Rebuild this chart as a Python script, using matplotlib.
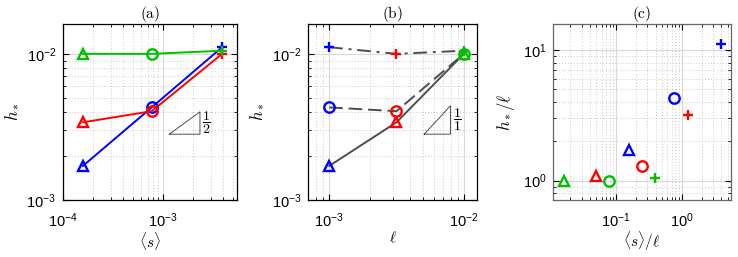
import numpy as np
import matplotlib
matplotlib.use("Agg")
import matplotlib.pyplot as plt
from matplotlib.ticker import LogLocator, NullFormatter

plt.rcParams["font.family"] = ["Liberation Sans", "DejaVu Sans"]
plt.rcParams["mathtext.fontset"] = "cm"

# data
s_vals = [1.58e-4, 7.7e-4, 3.9e-3]          # <s>, one per marker type
ell_vals = [1e-3, 3.16e-3, 1e-2]             # ell, one per colour
colors = ["#0000ff", "#ff0000", "#00c000"]
markers = ["^", "o", "+"]
# h_* [colour][marker]
h_blue = [1.71e-3, 4.3e-3, 1.11e-2]
h_red = [3.4e-3, 4.05e-3, 1.0e-2]
h_green = [1.0e-2, 1.0e-2, 1.05e-2]
h_all = [h_blue, h_red, h_green]
line_styles_b = ["-", (0, (7, 3)), (0, (7, 3, 1.5, 3))]


def style_axes(ax, spine_col="k"):
    ax.set_xscale("log")
    ax.set_yscale("log")
    ax.grid(True, which="major", color="0.85", lw=0.8, ls="-")
    ax.grid(True, which="minor", color="0.72", lw=0.6, ls=(0, (1, 2.5)))
    ax.set_axisbelow(True)
    ax.tick_params(which="both", direction="in", top=True, right=True,
                   labelsize=10.5)
    ax.tick_params(which="major", length=4)
    ax.tick_params(which="minor", length=2)
    ax.tick_params(axis="x", pad=8)
    ax.tick_params(axis="y", pad=5)
    ax.xaxis.set_minor_locator(LogLocator(base=10, subs=np.arange(2, 10)))
    ax.yaxis.set_minor_locator(LogLocator(base=10, subs=np.arange(2, 10)))
    ax.xaxis.set_minor_formatter(NullFormatter())
    ax.yaxis.set_minor_formatter(NullFormatter())
    for sp in ax.spines.values():
        sp.set_color(spine_col)
        sp.set_linewidth(0.9)


def slope_triangle(ax, x0, x1, y0, slope, label):
    y1 = y0 * (x1 / x0) ** slope
    ax.plot([x0, x1, x1, x0], [y0, y0, y1, y0], color="0.3", lw=0.7)
    ax.text(x1 * 1.05, np.sqrt(y0 * y1), label, fontsize=10,
            ha="left", va="center")


fig = plt.figure(figsize=(7.38, 2.57), dpi=100)
ax_a = fig.add_axes([0.0854, 0.2218, 0.2358, 0.6848])
ax_b = fig.add_axes([0.4178, 0.2218, 0.2290, 0.6848])
ax_c = fig.add_axes([0.7497, 0.2218, 0.2404, 0.6848])

# (a) h_* vs <s>, one line per ell
style_axes(ax_a)
for h, c in zip(h_all, colors):
    ax_a.plot(s_vals, h, color=c, lw=1.4)
    for xv, yv, m in zip(s_vals, h, markers):
        ax_a.plot(xv, yv, marker=m, ms=7.5, mew=1.7, mfc="none", mec=c)
ax_a.set_xlim(1e-4, 5.5e-3)
ax_a.set_ylim(1e-3, 1.6e-2)
slope_triangle(ax_a, 1.156e-3, 2.34e-3, 2.82e-3, 0.5, r"$\dfrac{1}{2}$")
ax_a.set_xlabel(r"$\langle s\rangle$", fontsize=11, labelpad=0)
ax_a.set_ylabel(r"$h_*$", fontsize=12, labelpad=4)
ax_a.set_title(r"$\mathrm{(a)}$", fontsize=11, pad=3)

# (b) h_* vs ell, one line per <s>
style_axes(ax_b)
for k, ls in enumerate(line_styles_b):
    ax_b.plot(ell_vals, [h[k] for h in h_all], color="0.3", lw=1.4, ls=ls)
for j, (h, c) in enumerate(zip(h_all, colors)):
    for k, m in enumerate(markers):
        ax_b.plot(ell_vals[j], h[k], marker=m, ms=7.5, mew=1.7, mfc="none",
                  mec=c, zorder=3)
ax_b.set_xlim(7e-4, 1.26e-2)
ax_b.set_ylim(1e-3, 1.6e-2)
slope_triangle(ax_b, 5.08e-3, 7.96e-3, 2.82e-3, 1.0, r"$\dfrac{1}{1}$")
ax_b.set_xlabel(r"$\ell$", fontsize=11, labelpad=0)
ax_b.set_ylabel(r"$h_*$", fontsize=12, labelpad=4)
ax_b.set_title(r"$\mathrm{(b)}$", fontsize=11, pad=3)

# (c) h_*/ell vs <s>/ell
style_axes(ax_c, spine_col="0.4")
for j, (h, c) in enumerate(zip(h_all, colors)):
    for k, m in enumerate(markers):
        ax_c.plot(s_vals[k] / ell_vals[j], h[k] / ell_vals[j], marker=m,
                  ms=7.5, mew=1.7, mfc="none", mec=c, ls="none")
ax_c.set_xlim(0.011, 5.57)
ax_c.set_ylim(0.71, 15.8)
ax_c.set_xlabel(r"$\langle s\rangle/\ell$", fontsize=11, labelpad=0)
ax_c.set_ylabel(r"$h_*/\ell$", fontsize=12, labelpad=4)
ax_c.set_title(r"$\mathrm{(c)}$", fontsize=11, pad=3)

fig.savefig("out.png", dpi=100)
